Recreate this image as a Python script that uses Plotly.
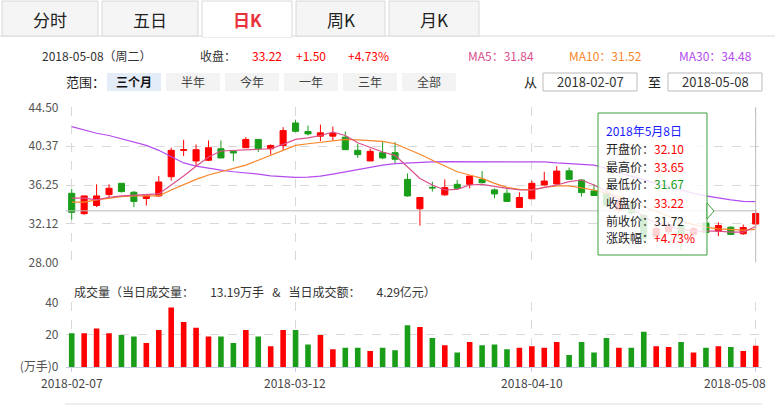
import plotly.graph_objects as go
from plotly.subplots import make_subplots

dates = ["2018-02-07", "2018-02-08", "2018-02-09", "2018-02-12", "2018-02-13", "2018-02-14",
         "2018-02-22", "2018-02-23", "2018-02-26", "2018-02-27", "2018-02-28", "2018-03-01",
         "2018-03-02", "2018-03-05", "2018-03-06", "2018-03-07", "2018-03-08", "2018-03-09",
         "2018-03-12", "2018-03-13", "2018-03-14", "2018-03-15", "2018-03-16", "2018-03-19",
         "2018-03-20", "2018-03-21", "2018-03-22", "2018-03-23", "2018-03-26", "2018-03-27",
         "2018-03-28", "2018-03-29", "2018-03-30", "2018-04-02", "2018-04-03", "2018-04-04",
         "2018-04-09", "2018-04-10", "2018-04-11", "2018-04-12", "2018-04-13", "2018-04-16",
         "2018-04-17", "2018-04-18", "2018-04-19", "2018-04-20", "2018-04-23", "2018-04-24",
         "2018-04-25", "2018-04-26", "2018-04-27", "2018-05-02", "2018-05-03", "2018-05-04",
         "2018-05-07", "2018-05-08"]

open_ = [35.37, 33.20, 34.07, 35.23, 36.43, 35.48, 34.81, 35.09, 37.13, 39.94, 38.81, 38.88,
         40.11, 39.83, 40.22, 41.10, 40.11, 40.46, 42.85, 41.94, 41.45, 41.45, 41.34, 39.94,
         38.81, 39.69, 39.69, 36.85, 33.72, 36.00, 35.20, 36.32, 36.32, 36.85, 35.73, 35.37,
         33.86, 34.78, 36.25, 36.36, 37.76, 36.78, 35.62, 35.30, 33.60, 34.20, 33.00, 30.80,
         31.30, 31.90, 31.00, 32.20, 31.34, 31.76, 31.06, 32.10]
high = [35.83, 35.09, 36.32, 36.32, 36.43, 35.62, 35.10, 37.20, 40.22, 41.06, 40.57, 40.99,
        40.99, 39.85, 41.34, 41.10, 40.57, 42.40, 43.20, 42.57, 42.67, 42.47, 41.94, 40.64,
        40.11, 40.82, 40.82, 37.48, 34.95, 36.60, 36.85, 36.78, 37.20, 37.73, 35.90, 35.80,
        35.48, 36.71, 37.66, 38.25, 38.11, 36.85, 36.32, 35.60, 34.90, 34.40, 33.20, 32.00,
        32.30, 32.10, 31.80, 32.30, 32.28, 31.86, 32.04, 33.65]
low = [32.56, 33.09, 33.90, 34.78, 35.45, 33.90, 34.07, 35.00, 36.71, 39.34, 38.25, 38.80,
       39.10, 38.78, 40.20, 39.76, 39.48, 39.94, 41.87, 41.52, 40.92, 40.99, 40.00, 39.13,
       38.80, 38.99, 38.60, 35.00, 31.93, 35.55, 35.10, 35.73, 35.90, 36.43, 34.85, 34.50,
       33.86, 34.78, 36.20, 36.30, 36.85, 35.02, 35.10, 33.90, 33.30, 33.10, 30.20, 30.50,
       31.00, 29.30, 30.80, 31.00, 30.80, 30.92, 30.95, 31.67]
close = [33.34, 35.09, 35.09, 35.90, 35.55, 34.50, 35.09, 36.57, 39.94, 40.00, 40.01, 40.22,
         39.13, 39.66, 41.10, 40.11, 40.46, 42.04, 41.97, 41.69, 41.80, 41.76, 40.01, 39.48,
         39.83, 39.13, 38.99, 35.09, 34.92, 35.94, 35.97, 35.90, 37.20, 36.50, 35.30, 34.50,
         34.92, 36.43, 36.67, 37.73, 36.85, 35.44, 35.13, 34.10, 34.50, 33.30, 30.60, 31.60,
         32.00, 31.00, 31.60, 31.20, 31.93, 30.99, 31.72, 33.22]

ma5 = [34.85, 34.85, 34.67, 34.95, 35.09, 35.16, 35.27, 35.30, 36.25, 37.20, 38.25, 39.24,
       39.87, 39.94, 40.00, 40.11, 40.11, 40.57, 41.10, 41.27, 41.52, 41.87, 41.52, 40.75,
       40.22, 39.76, 39.41, 38.18, 36.95, 36.25, 35.72, 35.79, 36.25, 36.32, 36.08, 35.90,
       35.72, 35.72, 36.00, 36.25, 36.60, 36.78, 36.25, 35.55, 34.67, 33.79, 32.90, 32.20,
       31.86, 31.50, 31.34, 31.34, 31.34, 31.23, 31.23, 31.84]
ma10 = [34.43, 34.43, 34.67, 34.85, 35.02, 35.09, 35.09, 35.09, 35.72, 36.32, 36.85, 37.31,
        37.66, 37.94, 38.36, 38.88, 39.41, 40.00, 40.46, 40.64, 40.82, 40.99, 41.10, 41.06,
        40.99, 40.89, 40.64, 40.11, 39.52, 38.88, 38.25, 37.66, 37.31, 36.95, 36.43, 36.00,
        35.79, 35.72, 36.00, 36.15, 36.15, 35.90, 35.72, 35.37, 35.02, 34.50, 33.97, 33.44,
        32.92, 32.39, 32.04, 31.76, 31.58, 31.50, 31.44, 31.52]
ma30 = [42.47, 42.12, 41.76, 41.52, 41.17, 40.82, 40.46, 39.94, 39.24, 38.60, 38.25, 38.01,
        37.83, 37.66, 37.55, 37.41, 37.23, 37.13, 37.06, 37.09, 37.20, 37.41, 37.66, 37.90,
        38.11, 38.36, 38.53, 38.60, 38.71, 38.71, 38.74, 38.74, 38.78, 38.78, 38.78, 38.78,
        38.74, 38.71, 38.71, 38.60, 38.53, 38.46, 38.36, 38.01, 37.55, 37.20, 36.78, 36.43,
        36.08, 35.72, 35.37, 35.09, 34.85, 34.67, 34.50, 34.48]

volume = [21, 21, 24, 21, 20, 19, 15, 23, 37, 28, 24.5, 19, 19, 15, 23, 19, 13, 23, 23, 14,
          20, 11, 12, 12, 10, 12, 10.5, 26, 25, 18, 13.5, 9, 15.5, 13.5, 14, 11, 12, 13, 12,
          15.5, 7.5, 15.5, 9, 18, 12, 12, 22, 13, 12.5, 15.5, 9, 12, 13, 12.5, 10, 13.19]

price_ticks = [28.00, 32.12, 36.25, 40.37, 44.50]
date_ticks = [0, 18, 37, 55]

RED = "#ff0000"
GREEN = "#1a9e1a"
FONT = "Noto Sans CJK SC"
W, H = 775, 410


def px(x):
    return x / W


def py(y):
    return 1 - y / H


x = list(range(len(dates)))
vol_colors = [RED if c >= o else GREEN for o, c in zip(open_, close)]

fig = make_subplots(rows=2, cols=1)
fig.add_trace(go.Scatter(x=x, y=ma30, mode="lines", line=dict(color="#b54cf0", width=1.2),
                         hoverinfo="skip"), row=1, col=1)
fig.add_trace(go.Scatter(x=x, y=ma10, mode="lines", line=dict(color="#f7862a", width=1.2),
                         hoverinfo="skip"), row=1, col=1)
fig.add_trace(go.Scatter(x=x, y=ma5, mode="lines", line=dict(color="#d9508c", width=1.2),
                         hoverinfo="skip"), row=1, col=1)
fig.add_trace(go.Candlestick(x=x, open=open_, high=high, low=low, close=close,
                             increasing=dict(line=dict(color=RED, width=1), fillcolor=RED),
                             decreasing=dict(line=dict(color=GREEN, width=1), fillcolor=GREEN),
                             whiskerwidth=0), row=1, col=1)
fig.add_trace(go.Bar(x=x, y=volume, marker=dict(color=vol_colors, line=dict(width=0)),
                     width=0.45), row=2, col=1)

fig.update_xaxes(range=[-0.5, 55.5], domain=[px(65.5), px(761.9)], tickvals=date_ticks,
                 showticklabels=False, showgrid=True, gridcolor="#d8d8d8", griddash="dash",
                 zeroline=False, rangeslider=dict(visible=False), fixedrange=True,
                 automargin=False)
fig.update_yaxes(zeroline=False, gridcolor="#d8d8d8", griddash="dash", automargin=False,
                 tickfont=dict(size=12, color="#555", family=FONT), ticks="", fixedrange=True,
                 ticklabelstandoff=6)
fig.update_yaxes(row=1, col=1, domain=[py(263), py(107)], range=[27.95, 44.55],
                 tickvals=price_ticks, ticktext=[f"{v:.2f}" for v in price_ticks])
fig.update_yaxes(row=2, col=1, domain=[py(367), py(302)], range=[0, 40.5],
                 tickvals=[0, 20, 40], ticktext=["(万手)0", "20", "40"])
fig.update_xaxes(row=2, col=1, showline=True, linecolor="#c5cde0", ticks="outside",
                 ticklen=4, tickcolor="#c5cde0")

shapes = []
annotations = []


def label(text, x0, y0, color="#333", size=12, anchor="left"):
    annotations.append(dict(text=text, x=px(x0), y=py(y0), xref="paper", yref="paper",
                            showarrow=False, xanchor=anchor, yanchor="middle",
                            font=dict(size=size, color=color, family=FONT)))


# tabs
tabs = [("分时", 2, 98), ("五日", 102, 198), ("日K", 202, 292), ("周K", 296, 385), ("月K", 389, 479)]
shapes.append(dict(type="line", xref="paper", yref="paper", x0=0, x1=1, y0=py(36), y1=py(36),
                   line=dict(color="#d8d8d8", width=1)))
for name, a, b in tabs:
    active = name == "日K"
    shapes.append(dict(type="rect", xref="paper", yref="paper", x0=px(a), x1=px(b),
                       y0=py(37 if active else 36), y1=py(1),
                       fillcolor="#ffffff" if active else "#f5f5f5",
                       line=dict(color="#d8d8d8", width=1)))
    if active:
        shapes.append(dict(type="line", xref="paper", yref="paper", x0=px(a + 1), x1=px(b - 1),
                           y0=py(36), y1=py(36), line=dict(color="#ffffff", width=2)))
    label(f"<b>{name}</b>" if active else name, (a + b) / 2, 19,
          "#e8333b" if active else "#222", 17, "center")

# header row
label("2018-05-08（周二）", 40, 55)
label("收盘：", 198, 55)
label("33.22", 250, 55, RED)
label("+1.50", 294, 55, RED)
label("+4.73%", 346, 55, RED)
label("MA5：31.84", 466, 55, "#d9508c")
label("MA10：31.52", 567, 55, "#f7862a")
label("MA30：34.48", 677, 55, "#b54cf0")

label("范围：", 64, 82, "#222", 13)
buttons = [("三个月", 107, 161), ("半年", 166, 220), ("今年", 225, 279), ("一年", 284, 338),
           ("三年", 343, 397), ("全部", 402, 456)]
for name, a, b in buttons:
    active = name == "三个月"
    shapes.append(dict(type="rect", xref="paper", yref="paper", x0=px(a), x1=px(b),
                       y0=py(91), y1=py(73), fillcolor="#e3ecf7" if active else "#f3f3f3",
                       line=dict(width=0)))
    label(f"<b>{name}</b>" if active else name, (a + b) / 2, 82, "#111" if active else "#444",
          12, "center")
label("从", 530, 82, "#222", 13, "center")
label("至", 654, 82, "#222", 13, "center")
for txt, a, b in [("2018-02-07", 543, 637), ("2018-05-08", 668, 762)]:
    shapes.append(dict(type="rect", xref="paper", yref="paper", x0=px(a), x1=px(b),
                       y0=py(91), y1=py(73), fillcolor="#ffffff", line=dict(color="#bbb", width=1)))
    label(txt, (a + b) / 2, 82, "#333", 13, "center")

# reference line and right border
shapes.append(dict(type="line", xref="x", yref="y", x0=-0.5, x1=55, y0=33.5, y1=33.5,
                   line=dict(color="#bdbdbd", width=1)))
shapes.append(dict(type="line", xref="x", yref="y", x0=55, x1=55, y0=28, y1=44.5,
                   line=dict(color="#bdbdbd", width=1)))

# tooltip
shapes.append(dict(type="rect", xref="paper", yref="paper", x0=px(598), x1=px(707),
                   y0=py(255), y1=py(113), fillcolor="rgba(255,255,255,0.82)",
                   line=dict(color="#3aa03a", width=1)))
shapes.append(dict(type="path", xref="paper", yref="paper",
                   path=f"M {px(707)} {py(203)} L {px(714)} {py(211)} L {px(707)} {py(219)} Z",
                   fillcolor="#ffffff", line=dict(color="#3aa03a", width=1)))
tip = [("开盘价：", "32.10", RED), ("最高价：", "33.65", RED), ("最低价：", "31.67", GREEN),
       ("收盘价：", "33.22", RED), ("前收价：", "31.72", "#222"), ("涨跌幅：", "+4.73%", RED)]
label("2018年5月8日", 604, 130, "#1a1aff", 12)
for i, (k, v, c) in enumerate(tip):
    label(f"{k}<span style='color:{c}'>{v}</span>", 604, 148 + i * 18, "#222", 12)

# volume title and date labels
label("成交量（当日成交量：      13.19万手   &   当日成交额：      4.29亿元）", 72, 291, "#333", 12)
for i, d in enumerate(["2018-02-07", "2018-03-12", "2018-04-10", "2018-05-08"]):
    xc = 71.7 + date_ticks[i] * 12.43
    anchor = "center"
    if i == 3:
        xc, anchor = 768, "right"
    label(d, xc, 382, "#444", 12, anchor)

shapes.append(dict(type="line", xref="paper", yref="paper", x0=px(65), x1=px(762),
                   y0=py(404), y1=py(404), line=dict(color="#ddd", width=1)))

fig.update_layout(width=W, height=H, margin=dict(l=0, r=0, t=0, b=0), showlegend=False,
                  plot_bgcolor="#ffffff", paper_bgcolor="#ffffff", shapes=shapes,
                  annotations=annotations, font=dict(family=FONT), hovermode=False)
fig.update_xaxes(showline=False, row=1, col=1)

fig.write_html("out.html", config={"displayModeBar": False},
               post_script="document.body.style.margin='0';")
